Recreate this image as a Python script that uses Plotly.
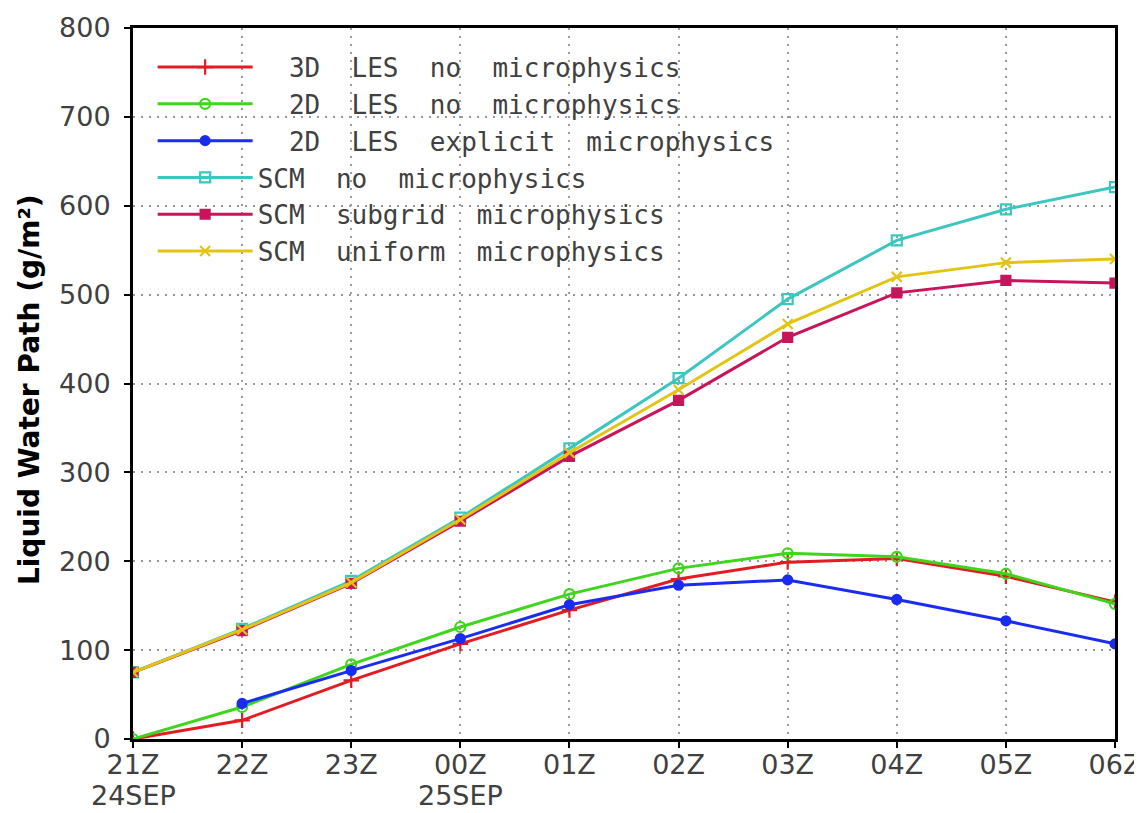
import plotly.graph_objects as go

hours = ["21Z", "22Z", "23Z", "00Z", "01Z", "02Z", "03Z", "04Z", "05Z", "06Z"]
tick_labels = ["21Z", "22Z", "23Z", "00Z", "01Z", "02Z", "03Z", "04Z", "05Z", "06Z"]
date_labels = ["24SEP", "", "", "25SEP", "", "", "", "", "", ""]
xpos = list(range(len(hours)))

les3d_nomicro = [0, 21, 66, 107, 145, 180, 199, 203, 183, 154]
les2d_nomicro = [0, 36, 84, 126, 163, 192, 209, 205, 186, 152]
les2d_explicit = [None, 40, 77, 113, 151, 173, 179, 157, 133, 107]
scm_nomicro = [75, 124, 178, 249, 327, 406, 495, 561, 596, 621]
scm_subgrid = [75, 122, 175, 245, 318, 381, 452, 502, 516, 513]
scm_uniform = [75, 123, 176, 247, 322, 393, 467, 520, 536, 540]

y_ticks = [0, 100, 200, 300, 400, 500, 600, 700, 800]

nb = "\u00a0"


def spaced(label, lead=0):
    return nb * lead + (nb * 2).join(label.split(" "))


series = [
    (spaced("3D LES no microphysics", 2), les3d_nomicro, "#e31b23", "cross-thin", 11),
    (spaced("2D LES no microphysics", 2), les2d_nomicro, "#3dd61c", "circle-open", 10),
    (spaced("2D LES explicit microphysics", 2), les2d_explicit, "#1a2cf0", "circle", 9),
    (spaced("SCM no microphysics"), scm_nomicro, "#3cc6bf", "square-open", 10),
    (spaced("SCM subgrid microphysics"), scm_subgrid, "#c8145a", "square", 9),
    (spaced("SCM uniform microphysics"), scm_uniform, "#e2c514", "x-thin", 10),
]

fig = go.Figure()
for name, vals, col, sym, size in series:
    fig.add_trace(go.Scatter(
        x=xpos, y=vals, name=name, mode="lines+markers",
        line=dict(color=col, width=3),
        marker=dict(symbol=sym, size=size, color=col,
                    line=dict(color=col, width=2.2)),
        connectgaps=False,
    ))

tick_font = dict(family="DejaVu Sans", size=27, color="#404040")

annotations = [dict(
    text="Liquid Water Path (g/m²)", textangle=-90,
    xref="paper", yref="paper", x=-0.106, y=0.492,
    xanchor="center", yanchor="middle", showarrow=False,
    font=dict(family="DejaVu Sans", size=28, color="black", weight="bold"),
)]
for xv, lab in zip(xpos, date_labels):
    if lab:
        annotations.append(dict(
            text=lab, xref="x", yref="paper", x=xv, y=-0.079,
            xanchor="center", yanchor="middle", showarrow=False,
            font=tick_font,
        ))

fig.update_layout(
    width=1134, height=805,
    margin=dict(l=125, r=27, t=20, b=74),
    paper_bgcolor="white", plot_bgcolor="white",
    showlegend=True,
    legend=dict(
        x=0.02, y=0.978, xanchor="left", yanchor="top",
        bgcolor="rgba(0,0,0,0)", borderwidth=0,
        font=dict(family="DejaVu Sans Mono", size=26, color="#404040"),
        itemwidth=95, tracegroupgap=0,
    ),
    xaxis=dict(
        range=[0, 9], tickmode="array", tickvals=xpos, ticktext=tick_labels,
        showgrid=True, gridcolor="#9a9a9a", griddash="2px,6px", gridwidth=2,
        showline=True, linecolor="black", linewidth=3, mirror=True,
        ticks="outside", ticklen=6, tickwidth=2, tickcolor="black",
        tickfont=tick_font, zeroline=False, automargin=False,
        ticklabelstandoff=-6,
    ),
    yaxis=dict(
        range=[0, 800], tickmode="array", tickvals=y_ticks,
        showgrid=True, gridcolor="#9a9a9a", griddash="2px,6px", gridwidth=2,
        showline=True, linecolor="black", linewidth=3, mirror=True,
        ticks="outside", ticklen=6, tickwidth=2, tickcolor="black",
        tickfont=tick_font, zeroline=False, automargin=False,
        ticklabelstandoff=8,
    ),
    annotations=annotations,
)

fig.write_html("out.html")
